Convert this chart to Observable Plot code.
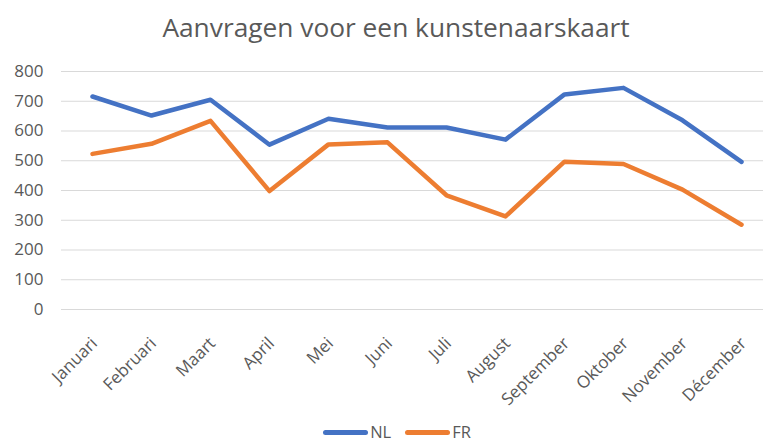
<!DOCTYPE html>
<html><head><meta charset="utf-8">
<script src="https://cdn.jsdelivr.net/npm/d3@7"></script>
<script src="https://cdn.jsdelivr.net/npm/@observablehq/plot@0.6"></script>
<style>
html,body{margin:0;background:#fff;font-family:"Open Sans",sans-serif;color:#595959;width:763px;height:444px;position:relative;}
#title{height:52px;line-height:54px;font-size:26.3px;text-align:center;padding-left:29px;box-sizing:border-box;white-space:nowrap;}
#chart svg{display:block;}
#legend{position:absolute;left:0;top:422px;width:763px;height:20px;display:flex;justify-content:center;align-items:center;font-size:16.5px;line-height:20px;padding-left:31px;box-sizing:border-box;}
#legend .item{display:flex;align-items:center;margin:0 7px;}
#legend .sw{display:inline-block;width:45px;height:5px;border-radius:3px;margin-right:2px;}
</style></head><body>
<div id="title">Aanvragen voor een kunstenaarskaart</div>
<div id="chart"></div>
<div id="legend"></div>
<script>
const months = ["Januari","Februari","Maart","April","Mei","Juni","Juli","August","September","Oktober","November","Décember"];
const nl = [716, 652, 705, 554, 641, 612, 612, 571, 723, 745, 636, 496];
const fr = [523, 557, 634, 398, 555, 562, 384, 313, 497, 489, 403, 285];
const seriesNames = ["NL", "FR"];
const seriesColors = ["#4472C4", "#ED7D31"];
const yTicks = [0, 100, 200, 300, 400, 500, 600, 700, 800];

const data = months.flatMap((m, i) => [
  {month: m, series: seriesNames[0], value: nl[i]},
  {month: m, series: seriesNames[1], value: fr[i]}
]);

const chart = Plot.plot({
  width: 763, height: 368,
  marginLeft: 61, marginRight: 0, marginTop: 19, marginBottom: 111,
  style: {fontFamily: "'Open Sans', sans-serif", fontSize: "17px", color: "#595959", background: "white"},
  x: {type: "point", domain: months, range: [91, 741], padding: 0},
  y: {domain: [0, 800]},
  color: {domain: seriesNames, range: seriesColors},
  marks: [
    Plot.ruleY(yTicks, {stroke: "#d9d9d9", strokeWidth: 1}),
    Plot.axisY({ticks: yTicks, tickSize: 0, tickPadding: 18, label: null}),
    Plot.axisX({tickSize: 0, tickRotate: -45, tickPadding: 31, dx: 2, label: null}),
    Plot.line(data, {x: "month", y: "value", z: "series", stroke: "series", strokeWidth: 4.5, strokeLinejoin: "round", strokeLinecap: "round"})
  ]
});
document.getElementById("chart").appendChild(chart);

const legend = document.getElementById("legend");
seriesNames.forEach((name, i) => {
  const item = document.createElement("span");
  item.className = "item";
  const sw = document.createElement("span");
  sw.className = "sw";
  sw.style.background = seriesColors[i];
  item.appendChild(sw);
  item.appendChild(document.createTextNode(name));
  legend.appendChild(item);
});
</script>
</body></html>
